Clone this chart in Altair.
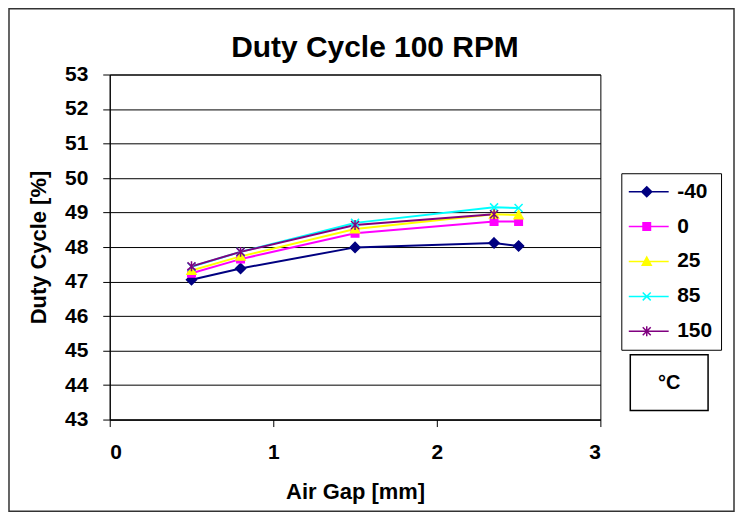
import altair as alt
import pandas as pd

# ---- data ----
air_gap = [0.5, 0.8, 1.5, 2.35, 2.5]
temps = ["-40", "0", "25", "85", "150"]
duty_m40 = [47.05, 47.38, 47.99, 48.12, 48.03]
duty_0 = [47.24, 47.65, 48.40, 48.74, 48.74]
duty_25 = [47.32, 47.73, 48.52, 48.95, 48.93]
duty_85 = [47.43, 47.86, 48.70, 49.15, 49.13]
duty_150 = [47.44, 47.86, 48.64, 48.95]  # no point at 2.5

series = {"-40": duty_m40, "0": duty_0, "25": duty_25, "85": duty_85, "150": duty_150}
colors = ["#000080", "#FF00FF", "#FFFF00", "#00FFFF", "#800080"]
title_text = "Duty Cycle 100 RPM"
unit_text = "°C"

rows = []
for t in temps:
    for i, v in enumerate(series[t]):
        rows.append({"gap": air_gap[i], "duty": v, "temp": t, "temp_l": t, "ord": i})
df = pd.DataFrame(rows)


# marker paths (unit square -1..1), optionally shifted horizontally
def diamond(c=0.0):
    return f"M{c},-1L{c+1},0L{c},1L{c-1},0Z"


def square(c=0.0):
    return f"M{c-0.75},-0.75H{c+0.75}V0.75H{c-0.75}Z"


def triangle(c=0.0):
    return f"M{c},-0.9L{c+0.9},0.75L{c-0.9},0.75Z"


def xmark(c=0.0):
    return f"M{c-0.8},-0.8L{c+0.8},0.8M{c-0.8},0.8L{c+0.8},-0.8"


def star(c=0.0):
    return xmark(c) + f"M{c},-1V1"


marker_fns = [diamond, square, triangle, xmark, star]
markers = [f() for f in marker_fns]
legend_shapes = ["M-2.2,0H5.8" + f(1.4) for f in marker_fns]

FONT = "Liberation Sans"

base = alt.Chart(df)

x_enc = alt.X("gap:Q", scale=alt.Scale(domain=[0, 3], nice=False),
              axis=alt.Axis(values=[0, 1, 2, 3], title="Air Gap [mm]", grid=False,
                            labelPadding=15, titlePadding=19, format="d"))
y_enc = alt.Y("duty:Q", scale=alt.Scale(domain=[43, 53], nice=False),
              axis=alt.Axis(values=list(range(43, 54)), tickCount=11, title="Duty Cycle [%]", grid=True,
                            labelOverlap=False, labelPadding=15, titlePadding=14, format="d"))

lines = base.mark_line(strokeWidth=2).encode(
    x=x_enc, y=y_enc,
    color=alt.Color("temp:N", sort=temps, scale=alt.Scale(domain=temps, range=colors), legend=None),
    order="ord:Q",
)

points = base.mark_point(filled=True, size=100, strokeWidth=1.5, opacity=1).encode(
    x=x_enc, y=y_enc,
    fill=alt.Fill("temp:N", sort=temps, scale=alt.Scale(domain=temps, range=colors), legend=None),
    stroke=alt.Stroke("temp:N", sort=temps, scale=alt.Scale(domain=temps, range=colors), legend=None),
    shape=alt.Shape("temp:N", sort=temps, scale=alt.Scale(domain=temps, range=markers), legend=None),
)

leg = alt.Legend(title=None, orient="none", legendX=513, legendY=99,
                 labelFont=FONT, labelFontSize=21, labelFontWeight="bold", labelColor="black",
                 symbolSize=100, symbolStrokeWidth=1.5, symbolOpacity=1,
                 strokeColor="black", fillColor="white", padding=8,
                 rowPadding=13, labelOffset=27, cornerRadius=0)

legend_layer = base.mark_point(filled=True, size=100, opacity=0).encode(
    x=x_enc, y=y_enc,
    fill=alt.Fill("temp_l:N", sort=temps, scale=alt.Scale(domain=temps, range=colors), legend=leg),
    stroke=alt.Stroke("temp_l:N", sort=temps, scale=alt.Scale(domain=temps, range=colors), legend=leg),
    shape=alt.Shape("temp_l:N", sort=temps, scale=alt.Scale(domain=temps, range=legend_shapes), legend=leg),
)

ann_df = pd.DataFrame({"label": [unit_text], "title": [title_text]})
deg_box = alt.Chart(ann_df).mark_rect(fill="white", stroke="black", strokeWidth=1.5).encode(
    x=alt.value(522), x2=alt.value(600), y=alt.value(281), y2=alt.value(337))
deg_text = alt.Chart(ann_df).mark_text(font=FONT, fontSize=20, fontWeight="bold", color="black",
                                       baseline="middle", align="center").encode(
    x=alt.value(561), y=alt.value(309), text="label:N")
title_mark = alt.Chart(ann_df).mark_text(font=FONT, fontSize=30, fontWeight="bold", color="black",
                                         baseline="alphabetic", align="center").encode(
    x=alt.value(266), y=alt.value(-18), text="title:N")

frame = alt.Chart(ann_df).mark_rect(fill=None, stroke="#333333", strokeWidth=1.5).encode(
    x=alt.value(-101), x2=alt.value(626), y=alt.value(-66), y2=alt.value(438))

chart = alt.layer(frame, lines, points, legend_layer, deg_box, deg_text, title_mark).resolve_scale(
    color="independent", fill="independent", stroke="independent", shape="independent"
).properties(
    width=492, height=346,
    background="white",
    autosize=alt.AutoSizeParams(type="none"),
    padding={"left": 102, "top": 66, "right": 135, "bottom": 93},
).configure_view(stroke="black", strokeWidth=1).configure_axis(
    labelFont=FONT, labelFontSize=21, labelFontWeight="bold", labelColor="black",
    titleFont=FONT, titleFontSize=22, titleFontWeight="bold", titleColor="black",
    domainColor="black", tickColor="black", gridColor="black", gridWidth=1,
    tickSize=7, domainWidth=1,
)

chart.save("out.html", embed_options={"renderer": "svg", "actions": False})
